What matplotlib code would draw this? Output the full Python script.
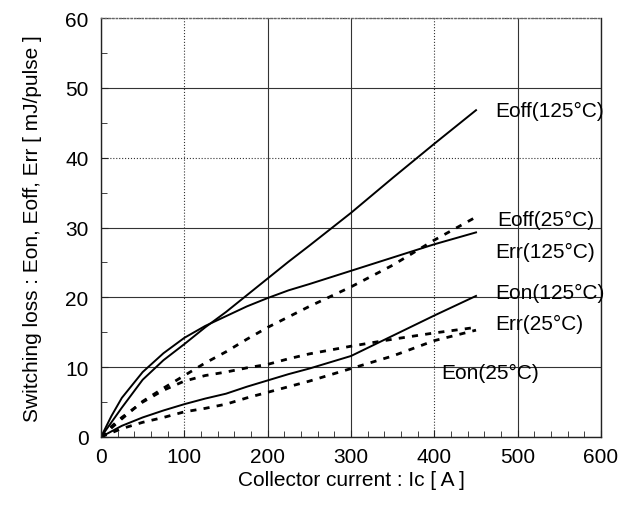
import matplotlib
matplotlib.use("Agg")
import matplotlib.pyplot as plt

plt.rcParams['font.family'] = ['Liberation Sans', 'DejaVu Sans']

# Collector current [A]
ic = [0, 12.5, 25, 50, 75, 100, 125, 150, 175, 200, 225, 250, 300, 350, 400, 450]

eoff_125 = [0, 2.1, 4.2, 8.2, 11.0, 13.3, 15.7, 17.9, 20.3, 22.7, 25.1, 27.4, 32.1, 37.1, 42.0, 46.8]
eoff_25 = [0, 1.3, 2.6, 5.1, 7.0, 8.8, 10.6, 12.2, 14.0, 15.7, 17.2, 18.7, 21.5, 24.6, 28.2, 31.5]
err_125 = [0, 3.0, 5.6, 9.3, 12.0, 14.2, 15.9, 17.3, 18.7, 19.9, 21.0, 21.9, 23.8, 25.7, 27.6, 29.3]
err_25 = [0, 1.5, 2.8, 5.0, 6.7, 8.0, 8.8, 9.3, 9.9, 10.4, 11.2, 11.9, 13.0, 14.0, 14.9, 15.7]
eon_125 = [0, 0.8, 1.6, 2.8, 3.8, 4.7, 5.5, 6.2, 7.2, 8.1, 9.0, 9.8, 11.6, 14.5, 17.4, 20.2]
eon_25 = [0, 0.6, 1.2, 2.1, 2.8, 3.6, 4.1, 4.7, 5.6, 6.4, 7.2, 8.0, 9.8, 11.6, 13.8, 15.3]

labels = ["Eoff(125°C)", "Eoff(25°C)", "Err(125°C)", "Eon(125°C)", "Err(25°C)", "Eon(25°C)"]
label_x = [473, 475, 473, 473, 473, 408]
label_y = [46.8, 31.2, 26.5, 20.7, 16.2, 9.3]

x_ticks = [0, 100, 200, 300, 400, 500, 600]
y_ticks = [0, 10, 20, 30, 40, 50, 60]

fig = plt.figure(figsize=(6.34, 5.10), dpi=100)
ax = fig.add_axes([0.1593, 0.1412, 0.7887, 0.8215])

ax.set_xlim(0, 600)
ax.set_ylim(0, 60)
ax.set_xticks(x_ticks)
ax.set_yticks(y_ticks)
ax.set_xticks(range(0, 601, 20), minor=True)
ax.set_yticks(range(0, 61, 5), minor=True)
ax.tick_params(which='both', direction='in', top=False, right=False, labelsize=15, color='#222222')
ax.tick_params(which='major', length=5)
ax.tick_params(which='minor', length=4)
ax.tick_params(axis='x', which='major', pad=7)
ax.tick_params(axis='y', which='major', pad=9)

ax.grid(True, which='major', color='#333333', linewidth=0.8)
xs_styles = ['-', ':', '-', '-', ':', '-', '-']
ys_styles = ['-', '-', '-', '-', ':', '-', ':']
for gl, st in zip(ax.xaxis.get_gridlines(), xs_styles):
    gl.set_linestyle(st)
for gl, st in zip(ax.yaxis.get_gridlines(), ys_styles):
    gl.set_linestyle(st)
ax.set_axisbelow(True)

for s in ax.spines.values():
    s.set_color('#222222')
    s.set_linewidth(1.0)
ax.spines['top'].set_linestyle(':')
ax.spines['top'].set_color('#666666')

solid = dict(color='black', linewidth=1.4, linestyle='-')
dashed = dict(color='black', linewidth=2.0, linestyle=(0, (2.2, 2.6)))

ax.plot(ic, eoff_125, **solid)
ax.plot(ic, err_125, **solid)
ax.plot(ic, eon_125, **solid)
ax.plot(ic, eoff_25, **dashed)
ax.plot(ic, err_25, **dashed)
ax.plot(ic, eon_25, **dashed)

for t, lx, ly in zip(labels, label_x, label_y):
    ax.text(lx, ly, t, fontsize=15, va='center', ha='left', color='black')

ax.set_xlabel("Collector current : Ic [ A ]", fontsize=15, labelpad=3)
ax.set_ylabel("Switching loss : Eon, Eoff, Err [ mJ/pulse ]", fontsize=15, labelpad=17)

fig.savefig("out.png", dpi=100)
